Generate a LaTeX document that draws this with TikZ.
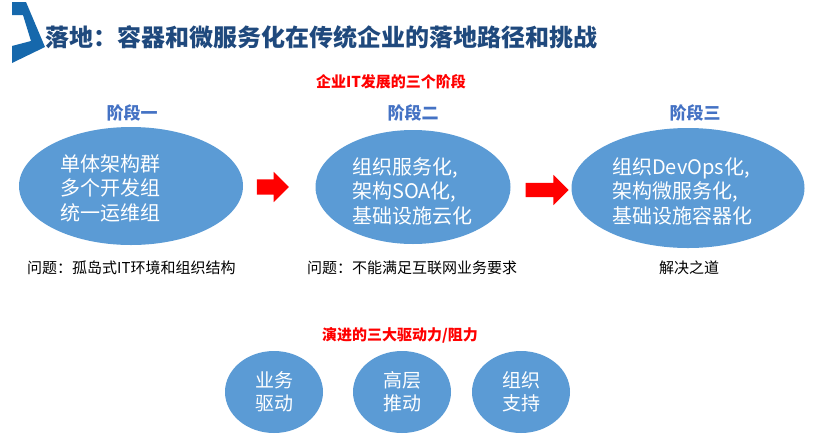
\documentclass[tikz,border=0pt]{standalone}
\usepackage{fontspec}
\setmainfont{Noto Sans CJK SC}
\usetikzlibrary{shapes.geometric,shapes.arrows}
\definecolor{titleblue}{RGB}{31,73,125}
\definecolor{markblue}{RGB}{22,104,172}
\definecolor{stageblue}{RGB}{68,114,196}
\definecolor{bubble}{RGB}{91,155,213}
\begin{document}
\begin{tikzpicture}[x=1pt,y=-1pt,
    bubble/.style={ellipse,fill=bubble,draw=none,inner sep=0pt},
    inside/.style={text=white,align=left,inner sep=0pt,font=\fontsize{20}{24.5}\selectfont},
    stagename/.style={text=stageblue,font=\fontsize{17}{19}\selectfont\bfseries},
    remark/.style={anchor=west,inner sep=0pt,font=\fontsize{15}{17}\selectfont},
    redhead/.style={text=red,inner sep=0pt,font=\fontsize{15}{17}\selectfont\bfseries},
    bigarrow/.style={single arrow,fill=red,draw=none,inner xsep=0pt,inner ysep=7.5pt,single arrow head extend=7.5pt}]
    \useasboundingbox (0,0) rectangle (840,437);

    \fill[markblue] (12,2) -- (26,2) -- (45,47) -- (12,63) -- (12,46) -- (31,41) -- (23,15) -- (12,15) -- cycle;
    \node[anchor=west,inner sep=0pt,text=titleblue,font=\fontsize{24}{28}\selectfont\bfseries] (title) at (45,37) {落地：容器和微服务化在传统企业的落地路径和挑战};

    \node[redhead] (phases) at (391,82) {企业IT发展的三个阶段};

    \node[stagename] (n1) at (132,113) {阶段一};
    \node[stagename] (n2) at (413,113) {阶段二};
    \node[stagename] (n3) at (695,113) {阶段三};

    \node[bubble,minimum width=224pt,minimum height=118pt] (s1) at (131,186) {};
    \node[bubble,minimum width=195pt,minimum height=114pt] (s2) at (413,187) {};
    \node[bubble,minimum width=233pt,minimum height=120pt] (s3) at (688,188) {};

    \node[inside,anchor=west] (t1) at (60,188) {单体架构群\\多个开发组\\统一运维组};
    \node[inside,anchor=west] (t2) at (352,191) {组织服务化,\\架构SOA化,\\基础设施云化};
    \node[inside,anchor=west] (t3) at (612,191) {组织DevOps化,\\架构微服务化,\\基础设施容器化};

    \node[bigarrow,minimum height=32pt] (a1) at (269,187) {};
    \node[bigarrow,minimum height=43pt,inner ysep=7pt,single arrow head extend=8pt] (a2) at (543.5,190) {};

    \node[remark] (p1) at (27,268) {问题：孤岛式IT环境和组织结构};
    \node[remark] (p2) at (307,268) {问题：不能满足互联网业务要求};
    \node[remark,anchor=center] (p3) at (689,268) {解决之道};

    \node[redhead] (forces) at (400,335) {演进的三大驱动力/阻力};

    \node[bubble,minimum width=98pt,minimum height=82pt] (f1) at (274,392) {};
    \node[bubble,minimum width=98pt,minimum height=82pt] (f2) at (402,392) {};
    \node[bubble,minimum width=98pt,minimum height=82pt] (f3) at (521,392) {};
    \node[inside,align=center,font=\fontsize{19}{23}\selectfont] at (f1) {业务\\驱动};
    \node[inside,align=center,font=\fontsize{19}{23}\selectfont] at (f2) {高层\\推动};
    \node[inside,align=center,font=\fontsize{19}{23}\selectfont] at (f3) {组织\\支持};
\end{tikzpicture}
\end{document}
